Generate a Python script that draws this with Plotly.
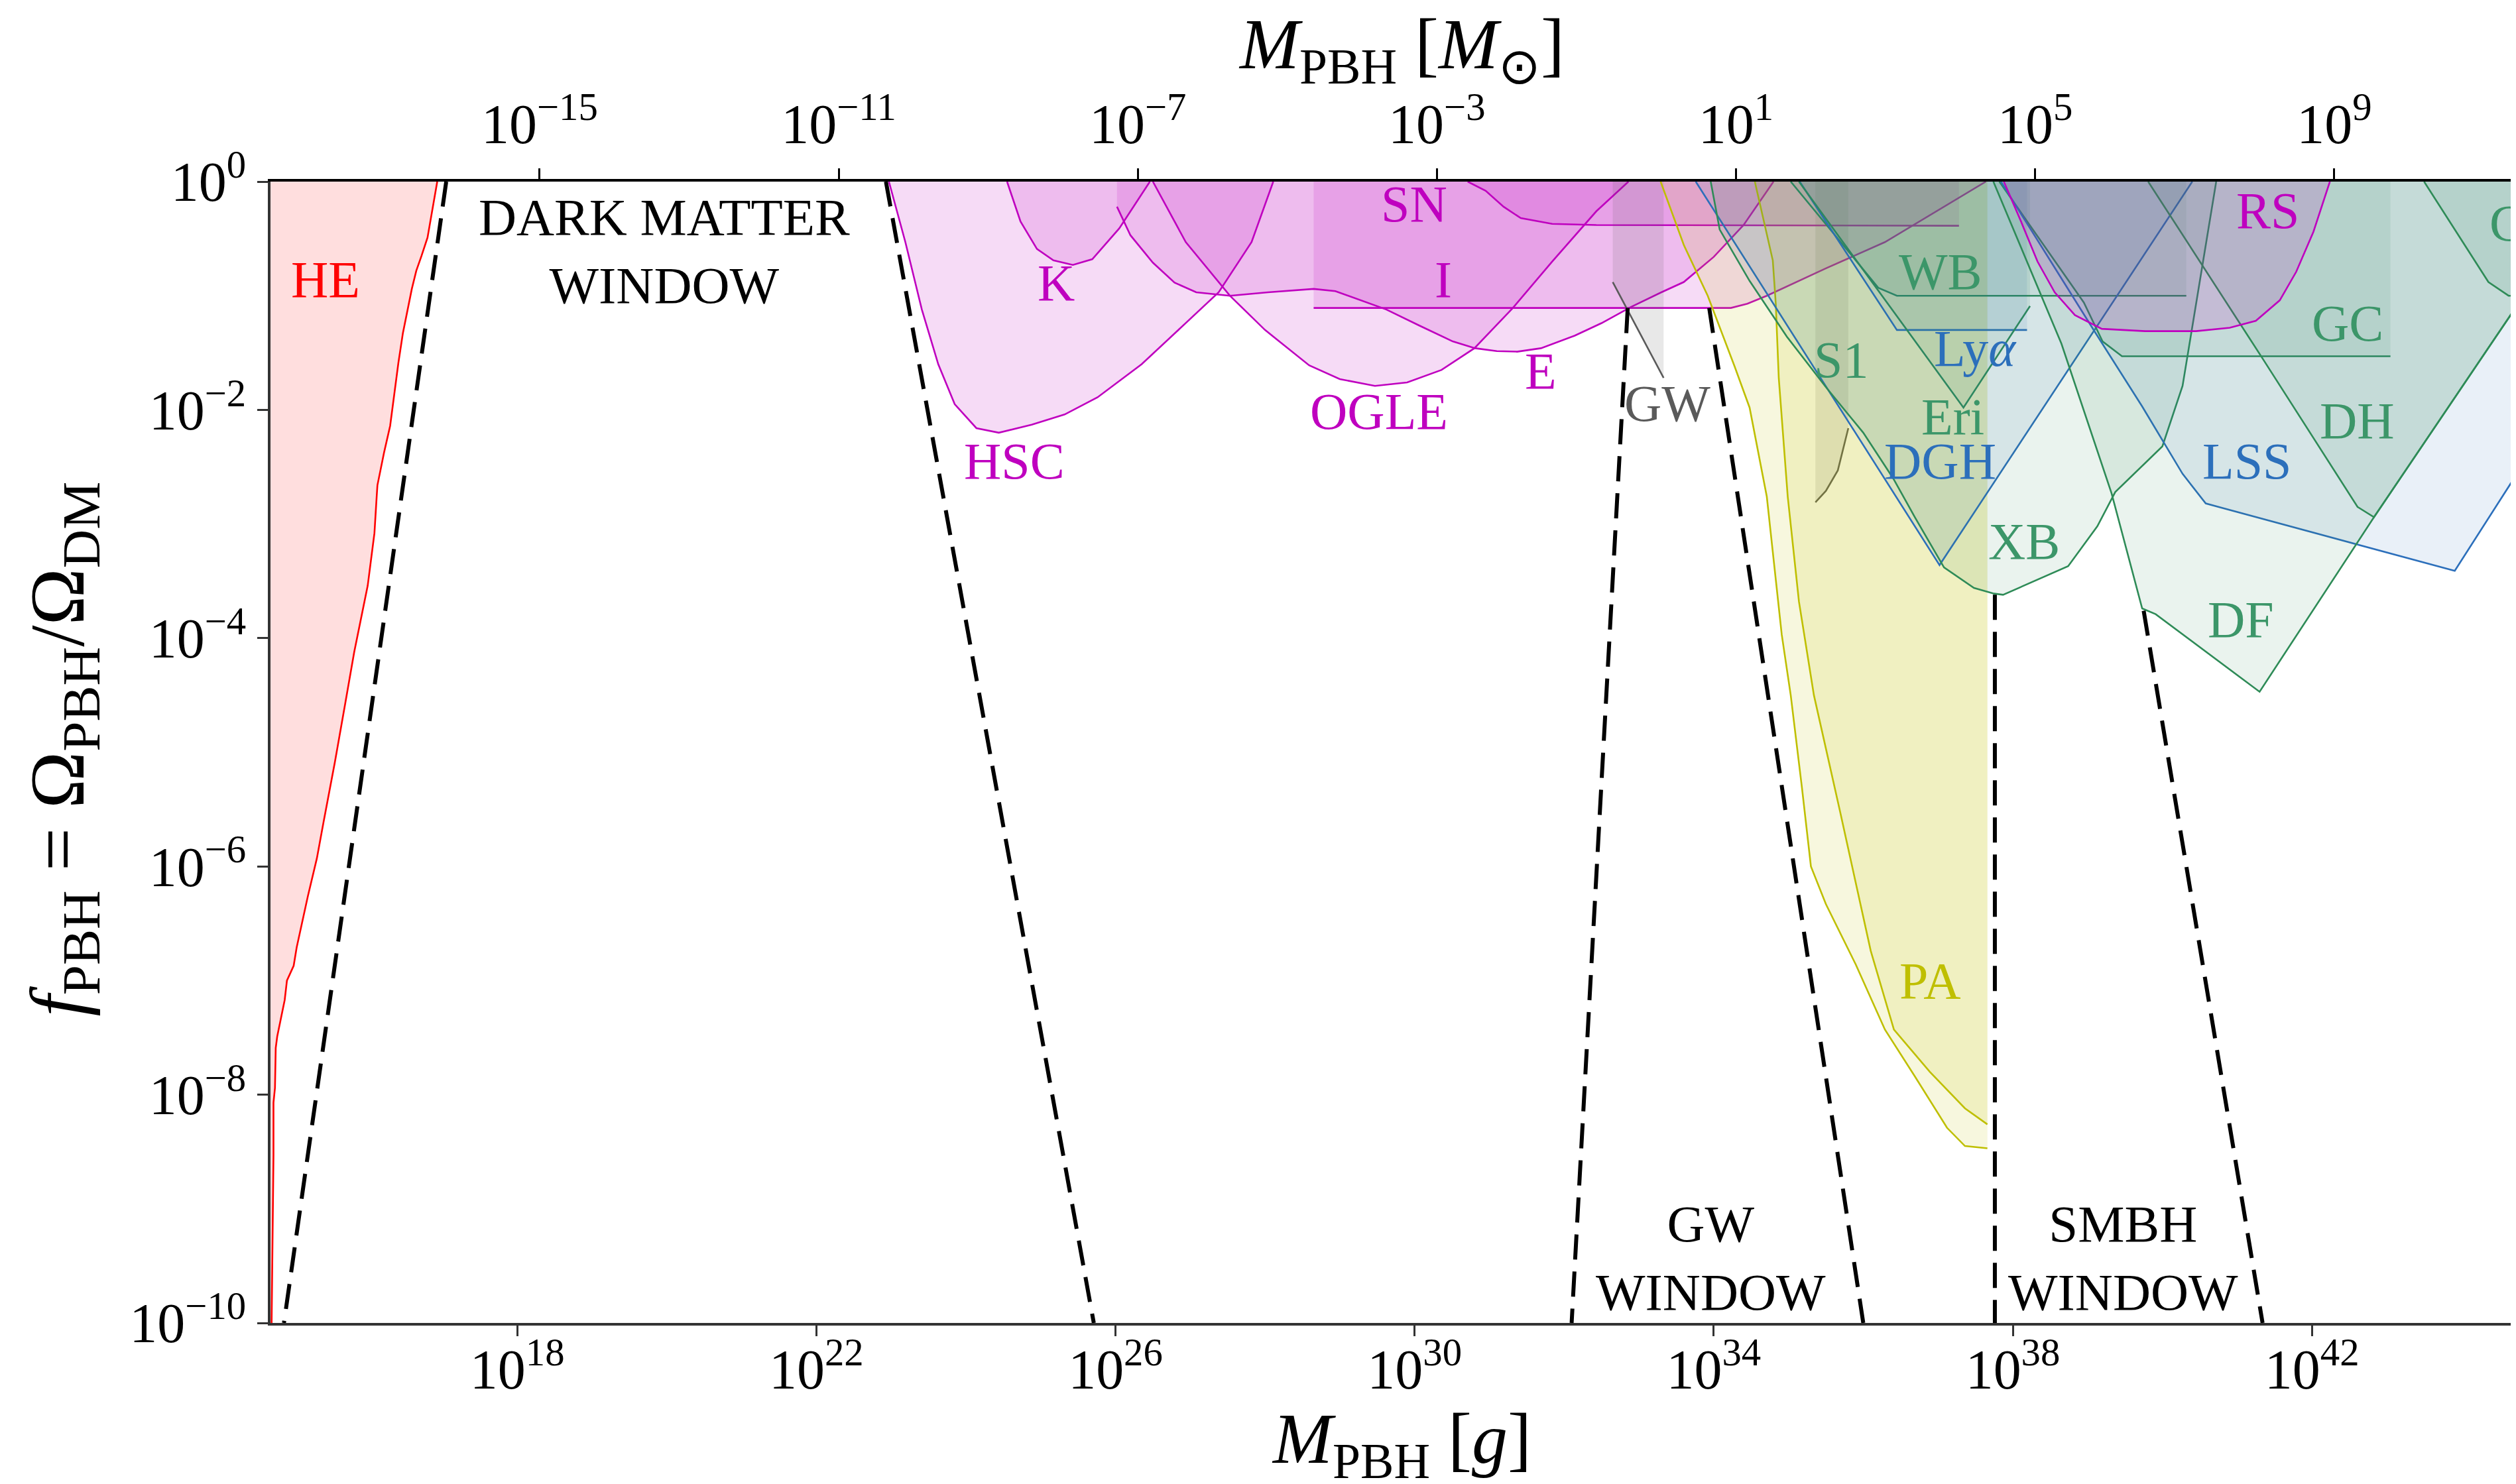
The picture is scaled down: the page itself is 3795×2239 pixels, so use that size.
import numpy as np
import plotly.graph_objects as go

# ---------------- axis settings (log10 units) ----------------
LOG_MSUN_G = 33.2986          # log10(M_sun / g)
X_RANGE = [14.70, 44.80]      # log10(M / g)
Y_RANGE = [-10.0, 0.0]        # log10(f_PBH)

X_TICKS = [18, 22, 26, 30, 34, 38, 42]
X2_TICKS = [-15, -11, -7, -3, 1, 5, 9]
Y_TICKS = [0, -2, -4, -6, -8, -10]

# ---------------- constraint curves: log10(M/g), log10(f) ----------------
HE_logM = [16.93, 16.80, 16.72, 16.65, 16.59, 16.47, 16.41, 16.30, 16.22, 16.13, 16.12, 16.09, 16.00,
           15.94, 15.82, 15.70, 15.56, 15.41, 15.32, 15.20, 15.05, 15.01, 14.92, 14.89, 14.79, 14.77,
           14.76, 14.74, 14.74, 14.715]
HE_logf = [0.0, -0.49, -0.65, -0.78, -0.94, -1.33, -1.59, -2.14, -2.37, -2.66, -2.76, -3.08, -3.54,
           -3.73, -4.12, -4.57, -5.09, -5.61, -5.93, -6.26, -6.71, -6.87, -7.00, -7.17, -7.49, -7.59,
           -7.94, -8.07, -8.53, -10.0]

HSC_logM = [22.97, 23.19, 23.41, 23.63, 23.85, 24.14, 24.44, 24.88, 25.32, 25.76, 26.35, 26.94, 27.38, 27.82, 28.11]
HSC_logf = [0.0, -0.53, -1.12, -1.60, -1.95, -2.16, -2.20, -2.13, -2.04, -1.89, -1.60, -1.24, -0.97, -0.53, 0.0]

K_logM = [24.55, 24.73, 24.95, 25.17, 25.43, 25.69, 26.05, 26.46]
K_logf = [0.0, -0.35, -0.59, -0.69, -0.73, -0.68, -0.41, 0.0]

OGLE_logM = [26.50, 26.94, 27.53, 28.00, 28.59, 29.00, 29.47, 29.90, 30.36, 30.80, 31.31, 31.84, 32.43, 32.86]
OGLE_logf = [0.0, -0.53, -1.00, -1.30, -1.61, -1.73, -1.79, -1.76, -1.65, -1.46, -1.11, -0.70, -0.26, 0.0]

E_logM = [26.02, 26.02, 26.20, 26.50, 26.79, 27.08, 27.53, 28.04, 28.65, 28.94, 29.33, 29.62, 30.06, 30.51,
          30.81, 31.10, 31.37, 31.69, 32.14, 32.50, 32.89, 33.30, 33.60, 34.00, 34.40, 34.80]
E_logf = [0.0, -0.22, -0.47, -0.71, -0.885, -0.97, -1.00, -0.97, -0.94, -0.96, -1.05, -1.12, -1.26, -1.40,
          -1.46, -1.485, -1.49, -1.46, -1.35, -1.24, -1.10, -0.97, -0.88, -0.66, -0.38, 0.0]

SN_logM = [30.71, 30.95, 31.19, 31.42, 31.84, 32.43, 37.28]
SN_logf = [0.0, -0.08, -0.22, -0.32, -0.37, -0.38, -0.387]

I_logM = [28.65, 28.65, 34.23, 34.45, 34.71, 35.50, 36.29, 37.64]
I_logf = [0.0, -1.107, -1.107, -1.07, -1.00, -0.76, -0.53, 0.0]

RS_logM = [37.88, 38.11, 38.33, 38.56, 38.83, 39.19, 39.77, 40.45, 40.90, 41.25, 41.57, 41.79, 42.02, 42.24]
RS_logf = [0.0, -0.35, -0.70, -0.97, -1.17, -1.29, -1.31, -1.31, -1.28, -1.22, -1.04, -0.79, -0.44, 0.0]

GW_logM = [32.65, 32.65, 33.33]
GW_logf = [0.0, -0.88, -1.72]

GW2_logM = [35.36, 35.36, 35.50, 35.66, 35.80]
GW2_logf = [0.0, -2.81, -2.71, -2.53, -2.16]

PA1_logM = [33.29, 33.60, 33.92, 34.28, 34.48, 34.71, 34.91, 35.03, 35.18, 35.30, 35.50, 35.90, 36.29,
            36.69, 37.12, 37.36, 37.66]
PA1_logf = [0.0, -0.555, -1.00, -1.62, -1.98, -2.76, -3.97, -4.50, -5.31, -6.00, -6.33, -6.86, -7.43,
            -7.84, -8.29, -8.45, -8.47]
PA2_logM = [34.55, 34.79, 34.83, 34.87, 34.99, 35.14, 35.34, 35.69, 36.10, 36.41, 36.89, 37.36, 37.66]
PA2_logf = [0.0, -0.69, -1.07, -1.72, -2.76, -3.68, -4.50, -5.52, -6.74, -7.43, -7.80, -8.12, -8.26]

WB_logM = [35.03, 35.50, 35.90, 36.20, 36.45, 40.32]
WB_logf = [0.0, -0.37, -0.69, -0.93, -1.00, -1.00]

LYA_logM = [35.15, 35.80, 36.45, 38.19]
LYA_logf = [0.0, -0.65, -1.30, -1.30]

ERI_logM = [35.14, 37.34, 38.23]
ERI_logf = [0.0, -1.98, -1.09]

DGH_logM = [33.76, 37.02, 40.40]
DGH_logf = [0.0, -3.36, 0.0]

XB_logM = [33.96, 34.08, 34.48, 34.98, 35.50, 36.00, 36.40, 36.69, 37.08, 37.48, 37.75, 37.87, 38.74,
           39.13, 39.37, 40.00, 40.27, 40.45, 40.72]
XB_logf = [0.0, -0.42, -0.87, -1.36, -1.80, -2.20, -2.60, -2.94, -3.38, -3.56, -3.61, -3.62, -3.37,
           -3.02, -2.72, -2.32, -1.79, -1.08, 0.0]

GC_logM = [37.82, 38.95, 39.20, 39.46, 43.05]
GC_logf = [0.0, -1.06, -1.40, -1.53, -1.53]

LSS_logM = [37.84, 39.10, 39.73, 40.27, 40.58, 43.91, 44.80]
LSS_logf = [0.0, -1.32, -1.97, -2.56, -2.82, -3.41, -2.50]

DF_logM = [37.74, 38.65, 39.32, 39.73, 39.91, 41.30, 42.83, 44.80]
DF_logf = [0.0, -1.42, -2.73, -3.74, -3.79, -4.47, -2.94, -1.03]

DH_logM = [39.81, 41.35, 42.61, 42.83, 44.80]
DH_logf = [0.0, -1.56, -2.85, -2.94, -1.03]

G_logM = [43.50, 44.36, 44.63, 44.80]
G_logf = [0.0, -0.88, -1.00, -1.00]

# window boundaries (dashed)
WINDOWS = [
    ([17.05, 14.88], [0.0, -10.0]),
    ([22.93, 25.71], [0.0, -10.0]),
    ([32.85, 32.10], [-1.107, -10.0]),
    ([33.94, 36.00], [-1.107, -10.0]),
    ([37.76, 37.76], [-3.62, -10.0]),
    ([39.75, 41.34], [-3.76, -10.0]),
]

# labels: text, log10(M/g), log10(f), colour key
LABELS = [
    ("HE", 15.44, -0.857, "red"), ("K", 25.21, -0.885, "mag"), ("HSC", 24.65, -2.445, "mag"),
    ("SN", 29.99, -0.197, "mag"), ("I", 30.38, -0.857, "mag"), ("OGLE", 29.52, -2.01, "mag"),
    ("E", 31.69, -1.66, "mag"), ("GW", 33.38, -1.94, "gray"), ("S1", 35.70, -1.56, "green"),
    ("WB", 37.03, -0.787, "green"), ("Ly<i>α</i>", 37.50, -1.46, "blue"), ("Eri", 37.20, -2.06, "green"),
    ("DGH", 37.03, -2.445, "blue"), ("XB", 38.15, -3.15, "green"), ("PA", 36.90, -7.0, "yellow"),
    ("RS", 41.41, -0.253, "mag"), ("GC", 42.48, -1.237, "green"), ("DH", 42.61, -2.094, "green"),
    ("LSS", 41.13, -2.445, "blue"), ("DF", 41.05, -3.837, "green"), ("G", 44.62, -0.365, "green"),
]
WINDOW_TEXT = [
    ("DARK MATTER<br>WINDOW", 19.97, -0.61),
    ("GW<br>WINDOW", 33.96, -9.43),
    ("SMBH<br>WINDOW", 39.48, -9.43),
]

COLORS = {
    "red": (255, 0, 0), "mag": (191, 0, 191), "gray": (90, 90, 90), "yellow": (191, 191, 0),
    "green": (46, 139, 87), "blue": (44, 111, 187),
}
TEXT_COLORS = {
    "red": "rgb(255,0,0)", "mag": "rgb(191,0,191)", "gray": "rgb(90,90,90)", "yellow": "rgb(191,191,0)",
    "green": "rgb(60,150,105)", "blue": "rgb(44,111,187)",
}

FONT = "Liberation Serif, Times New Roman, serif"
fig = go.Figure()


def p10(a):
    return 10.0 ** np.asarray(a, dtype=float)


def add_region(logM, logf, ckey, alpha, close="top", line_start=0, lw=2.6):
    r, g, b = COLORS[ckey]
    xs, ys = list(logM), list(logf)
    if close == "top":
        px, py = xs + [xs[-1], xs[0]], ys + [0.0, 0.0]
    else:  # close to the left edge
        px, py = xs + [14.0, 14.0], ys + [-10.5, 0.0]
    fig.add_trace(go.Scatter(x=p10(px), y=p10(py), mode="lines", fill="toself",
                             fillcolor=f"rgba({r},{g},{b},{alpha})", line=dict(width=0),
                             hoverinfo="skip", showlegend=False))
    fig.add_trace(go.Scatter(x=p10(xs[line_start:]), y=p10(ys[line_start:]), mode="lines",
                             line=dict(color=f"rgb({r},{g},{b})", width=lw),
                             hoverinfo="skip", showlegend=False))


add_region(HE_logM, HE_logf, "red", 0.13, close="left")
add_region(HSC_logM, HSC_logf, "mag", 0.14)
add_region(K_logM, K_logf, "mag", 0.14)
add_region(OGLE_logM, OGLE_logf, "mag", 0.14)
add_region(E_logM, E_logf, "mag", 0.14, line_start=1)
add_region(SN_logM, SN_logf, "mag", 0.14)
add_region(I_logM, I_logf, "mag", 0.14, line_start=1)
add_region(GW_logM, GW_logf, "gray", 0.14, line_start=1)
add_region(GW2_logM, GW2_logf, "gray", 0.14, line_start=1)
add_region(PA1_logM, PA1_logf, "yellow", 0.13)
add_region(PA2_logM, PA2_logf, "yellow", 0.13)
add_region(WB_logM, WB_logf, "green", 0.10)
add_region(LYA_logM, LYA_logf, "blue", 0.10)
add_region(ERI_logM, ERI_logf, "green", 0.10)
add_region(DGH_logM, DGH_logf, "blue", 0.10)
add_region(XB_logM, XB_logf, "green", 0.10)
add_region(GC_logM, GC_logf, "green", 0.10)
add_region(LSS_logM, LSS_logf, "blue", 0.10)
add_region(DF_logM, DF_logf, "green", 0.10)
add_region(DH_logM, DH_logf, "green", 0.10)
add_region(G_logM, G_logf, "green", 0.10)
add_region(RS_logM, RS_logf, "mag", 0.14)

for wx, wy in WINDOWS:
    fig.add_trace(go.Scatter(x=p10(wx), y=p10(wy), mode="lines",
                             line=dict(color="black", width=6, dash="38px,18px"),
                             hoverinfo="skip", showlegend=False))

# invisible trace on the solar-mass axis
fig.add_trace(go.Scatter(x=p10([X_RANGE[0] - LOG_MSUN_G, X_RANGE[1] - LOG_MSUN_G]), y=[1e-5, 1e-5],
                         xaxis="x2", mode="lines", line=dict(width=0), opacity=0,
                         hoverinfo="skip", showlegend=False))

annotations = []
for text, lx, ly, ck in LABELS:
    annotations.append(dict(x=lx, y=ly, xref="x", yref="y", text=text, showarrow=False,
                            font=dict(family=FONT, size=78, color=TEXT_COLORS[ck]),
                            xanchor="center", yanchor="middle"))
for text, lx, ly in WINDOW_TEXT:
    annotations.append(dict(x=lx, y=ly, xref="x", yref="y", text=text, showarrow=False,
                            font=dict(family=FONT, size=79, color="black"),
                            xanchor="center", yanchor="middle"))

# axis titles
annotations.append(dict(x=0.5025, y=-0.106, xref="paper", yref="paper", showarrow=False,
                        text="<i>M</i><sub>PBH</sub> [<i>g</i>]", xanchor="center", yanchor="middle",
                        font=dict(family=FONT, size=108, color="black")))
annotations.append(dict(x=0.5025, y=1.116, xref="paper", yref="paper", showarrow=False,
                        text="<i>M</i><sub>PBH</sub> [<i>M</i><sub>⊙</sub>]", xanchor="center",
                        yanchor="middle", font=dict(family=FONT, size=108, color="black")))
annotations.append(dict(x=-0.092, y=0.503, xref="paper", yref="paper", showarrow=False, textangle=-90,
                        text="<i>f</i><sub>PBH</sub> = Ω<sub>PBH</sub>/Ω<sub>DM</sub>",
                        xanchor="center", yanchor="middle",
                        font=dict(family=FONT, size=116, color="black")))

tickfont = dict(family=FONT, size=84, color="black")
fig.update_layout(
    width=3795, height=2239,
    margin=dict(l=400, r=0, t=266, b=251, pad=0),
    paper_bgcolor="white", plot_bgcolor="white",
    showlegend=False,
    annotations=annotations,
    xaxis=dict(type="log", range=X_RANGE, showgrid=False, zeroline=False,
               showline=True, linecolor="#333", linewidth=4, mirror=False,
               ticks="outside", ticklen=16, tickwidth=3, tickcolor="#333",
               ticklabelstandoff=-22,
               tickvals=[10.0 ** v for v in X_TICKS],
               ticktext=[f"10<sup>{v}</sup>" for v in X_TICKS], tickfont=tickfont),
    xaxis2=dict(type="log", range=[X_RANGE[0] - LOG_MSUN_G, X_RANGE[1] - LOG_MSUN_G],
                overlaying="x", side="top", anchor="y", showgrid=False, zeroline=False,
                showline=True, linecolor="black", linewidth=4,
                ticks="outside", ticklen=16, tickwidth=3, tickcolor="black",
                ticklabelstandoff=4,
                tickvals=[10.0 ** v for v in X2_TICKS],
                ticktext=[f"10<sup>{'−' if v < 0 else ''}{abs(v)}</sup>" for v in X2_TICKS],
                tickfont=tickfont),
    yaxis=dict(type="log", range=Y_RANGE, showgrid=False, zeroline=False,
               showline=True, linecolor="#333", linewidth=4,
               ticks="outside", ticklen=16, tickwidth=3, tickcolor="#333",
               tickvals=[10.0 ** v for v in Y_TICKS],
               ticktext=[f"10<sup>{'−' if v < 0 else ''}{abs(v)}</sup>" for v in Y_TICKS],
               tickfont=tickfont),
)

fig.write_html("out.html")
